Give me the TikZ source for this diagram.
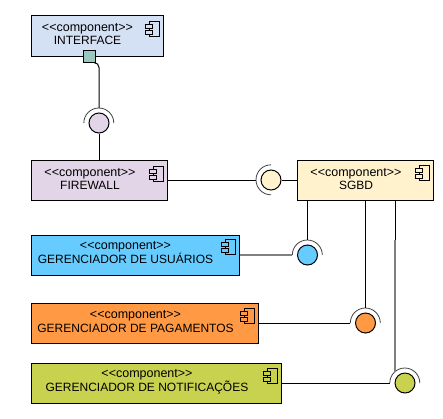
\documentclass[tikz,border=0pt]{standalone}
\usepackage{fontspec}
\setmainfont{Liberation Sans}
\definecolor{corinterface}{HTML}{D4E1F5}
\definecolor{corfirewall}{HTML}{E1D5E7}
\definecolor{corsgbd}{HTML}{FFF2CC}
\definecolor{corusuarios}{HTML}{66CCFF}
\definecolor{corpagamentos}{HTML}{FF9944}
\definecolor{cornotificacoes}{HTML}{C8D24E}
\definecolor{corporta}{HTML}{9AC7BF}
\newcommand{\estereotipo}{{\fontsize{12.5}{13.5}\selectfont{<}{<}component{>}{>}}}
\tikzset{
  comp/.style={draw=black, line width=1pt, minimum height=40pt, inner sep=0pt},
  rotulo/.style={align=center, inner sep=0pt, font=\fontsize{12}{13.5}\selectfont},
  porta/.style={draw=black, line width=1pt, fill=corporta, minimum size=12pt, inner sep=0pt},
  bola/.style={circle, draw=black, line width=1pt, minimum size=20pt, inner sep=0pt},
  encaixe/.style={circle, minimum size=30pt, inner sep=0pt},
  arco/.style={line width=.8pt, draw=black!75},
  liga/.style={line width=1pt},
  ligacinza/.style={line width=2pt, draw=black!50},
  icone/.pic={
    \draw[line width=.9pt] (-10,0) rectangle (0,15);
    \draw[pic actions, line width=.9pt] (-14,3) rectangle (-7,7);
    \draw[pic actions, line width=.9pt] (-14,9) rectangle (-7,13);
  }
}
\begin{document}
\begin{tikzpicture}[x=1pt, y=-1pt]
\useasboundingbox (0,0) rectangle (443,418);

% caixas
\node[comp, fill=corinterface, minimum width=132pt, minimum height=41pt] (interface) at (97,35.5) {};
\node[comp, fill=corfirewall, minimum width=136pt] (firewall) at (99,180) {};
\node[comp, fill=corsgbd, minimum width=136pt] (sgbd) at (365,180) {};
\node[comp, fill=corusuarios, minimum width=208pt] (usuarios) at (135,255) {};
\node[comp, fill=corpagamentos, minimum width=227pt] (pagamentos) at (144.5,323) {};
\node[comp, fill=cornotificacoes, minimum width=250pt] (notificacoes) at (156,383) {};

\node[rotulo] (tinterface) at (87.5,34) {\estereotipo\\INTERFACE};
\node[rotulo] (tfirewall) at (90,179) {\estereotipo\\FIREWALL};
\node[rotulo] (tsgbd) at (356,179) {\estereotipo\\SGBD};
\node[rotulo] (tusuarios) at (125.5,252.5) {\estereotipo\\GERENCIADOR DE USUÁRIOS};
\node[rotulo] (tpagamentos) at (135.5,321.5) {\estereotipo\\GERENCIADOR DE PAGAMENTOS};
\node[rotulo] (tnotificacoes) at (147,381.5) {\estereotipo\\GERENCIADOR DE NOTIFICAÇÕES};

% icones
\pic[fill=corinterface] at (159,21) {icone};
\pic[fill=corfirewall] at (163,166) {icone};
\pic[fill=corsgbd] at (429,165) {icone};
\pic[fill=corusuarios] at (235,239) {icone};
\pic[fill=corpagamentos] at (254,308) {icone};
\pic[fill=cornotificacoes] at (277,368) {icone};

\node[porta] (porta) at (89,56) {};

% interfaces
\node[encaixe] (afirewall) at (99,123) {};
\node[encaixe] (asgbd) at (271,180) {};
\node[encaixe] (ausuarios) at (307.5,255) {};
\node[encaixe] (apagamentos) at (365.5,323) {};
\node[encaixe] (anotificacoes) at (405,383) {};
\coordinate (cnotificacoes) at (395,372);
\coordinate (mnotificacoes) at (395,240);

\node[bola, fill=corfirewall] (bfirewall) at (afirewall) {};
\node[bola, fill=corsgbd] (bsgbd) at (asgbd) {};
\node[bola, fill=corusuarios] (busuarios) at (ausuarios) {};
\node[bola, fill=corpagamentos] (bpagamentos) at (apagamentos) {};
\node[bola, fill=cornotificacoes] (bnotificacoes) at (anotificacoes) {};

\draw[arco] (afirewall.west) arc[start angle=180, end angle=0, radius=15pt];
\draw[arco] (asgbd.north) arc[start angle=90, end angle=270, radius=15pt];
\draw[arco] (ausuarios.west) arc[start angle=180, end angle=0, radius=15pt];
\draw[arco] (apagamentos.west) arc[start angle=180, end angle=0, radius=15pt];
\draw[arco] (anotificacoes.west) arc[start angle=180, end angle=0, radius=15pt];

% ligacoes
\draw[liga, rounded corners=5pt] (porta.south east) -| (afirewall.north);
\draw[liga] (bfirewall.south) -- (firewall.north -| bfirewall.south);
\draw[liga] (firewall.east) -- (asgbd.west);
\draw[liga] (bsgbd.east) -- (sgbd.west);
\draw[liga] (sgbd.south -| ausuarios.north) -- (ausuarios.north);
\draw[ligacinza] (usuarios.east) -- (ausuarios.west);
\draw[liga] (sgbd.south -| apagamentos.north) -- (apagamentos.north);
\draw[liga] (pagamentos.east) -- (apagamentos.west);
\draw[ligacinza] (mnotificacoes) -- (cnotificacoes);
\draw[liga] (sgbd.south -| mnotificacoes) -- (mnotificacoes);
\draw[liga] (notificacoes.east) -- (anotificacoes.west);
\end{tikzpicture}
\end{document}
